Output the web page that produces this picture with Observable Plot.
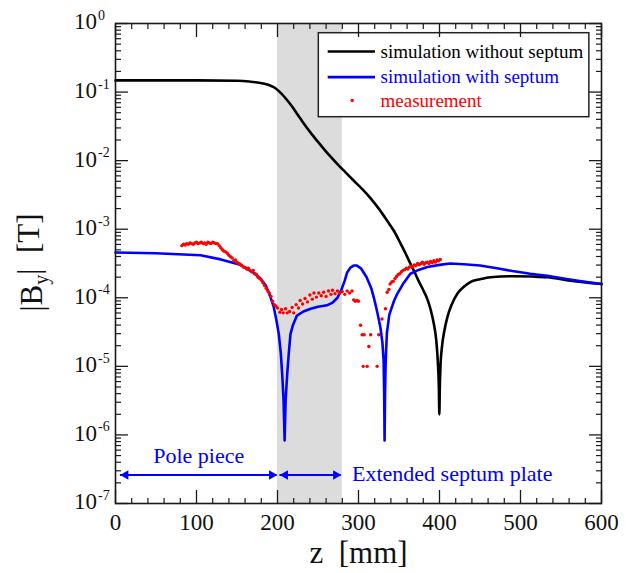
<!DOCTYPE html>
<html><head><meta charset="utf-8">
<script src="https://cdn.jsdelivr.net/npm/d3@7"></script>
<script src="https://cdn.jsdelivr.net/npm/@observablehq/plot@0.6"></script>
<style>
html,body{margin:0;padding:0;background:#fff;}
#chart svg{display:block;}
#chart svg text{font-family:"Liberation Serif","Times New Roman",Times,serif !important;}
</style>
</head><body><div id="chart"></div>
<script>
// ---------- data (z in mm, log10 of |By| in T) ----------
const noSeptumZ = [0,50,100,150,165,175,182,191,197,202,207,212,218,225,232,242,253,263,274,284,294,305,315,325,335,344,352,358,364,369,374,380,385,389,393,396,398,399.2,399.8,400.4,401.2,403,406,410,415,422,430,438,450,463,491,515,533,562,600];
const noSeptumLog = [-0.83,-0.83,-0.83,-0.835,-0.845,-0.86,-0.875,-0.905,-0.94,-0.99,-1.05,-1.12,-1.21,-1.33,-1.45,-1.61,-1.77,-1.91,-2.05,-2.17,-2.29,-2.42,-2.55,-2.70,-2.87,-3.03,-3.21,-3.35,-3.50,-3.62,-3.75,-3.89,-4.02,-4.17,-4.38,-4.62,-4.95,-5.3,-5.7,-5.3,-5.0,-4.72,-4.48,-4.27,-4.1,-3.94,-3.84,-3.77,-3.73,-3.70,-3.685,-3.69,-3.70,-3.75,-3.80];

const withSeptumZ = [0,50,105,130,154,170,179,186,191,195.5,199,201.6,204,205.8,207.5,208.8,210,212,214,216,219,224,232,241,250,261,268,274,279,283,286,290,294,298,303,310,316,319,323,327,329.5,331,331.7,332.2,332.8,333.5,335,338,344,348,356,364,375,385,400,413,430,450,471,490,512,533,553,575,600];
const withSeptumLog = [-3.34,-3.35,-3.38,-3.44,-3.52,-3.63,-3.72,-3.83,-3.98,-4.14,-4.35,-4.53,-4.8,-5.11,-5.5,-6.08,-5.5,-5.11,-4.8,-4.53,-4.40,-4.26,-4.20,-4.16,-4.13,-4.11,-4.07,-4.0,-3.88,-3.75,-3.63,-3.56,-3.53,-3.53,-3.57,-3.70,-3.87,-4.0,-4.2,-4.43,-4.65,-4.91,-5.4,-6.08,-5.4,-4.95,-4.52,-4.25,-4.04,-3.94,-3.78,-3.65,-3.59,-3.55,-3.52,-3.50,-3.51,-3.53,-3.57,-3.61,-3.65,-3.68,-3.72,-3.76,-3.80];

const measZ = [82,84,86,88,90,92,94,96,98,100,102,104,106,108,110,112,114,116,118,120,122,124,126,128,130,132,134,136,138,140,142,144,146,148,150,152,154,156,158,160,162,164,166,168,170,172,174,176,178,180,182,184,186,188,190,192,194,196,198,
  200,203,205,207,210,212,215,218,220,223,226,228,231,234,237,240,243,245,248,251,254,257,260,263,266,268,271,274,277,280,283,286,289,292,
  294,296,298,300,302.5,304.5,305.8,307,310.7,312.8,315,323,325,329,333.3,335.4,337.5,
  339,341,343,345,347,349,351,353,355,357,359,361,363,365,367,369,371,373,375,377,379,381,383,385,387,389,391,393,395,397,399,401];
const measLog = [-3.24,-3.22,-3.23,-3.21,-3.22,-3.20,-3.21,-3.22,-3.20,-3.19,-3.21,-3.20,-3.19,-3.21,-3.20,-3.22,-3.19,-3.20,-3.21,-3.19,-3.20,-3.21,-3.21,-3.24,-3.27,-3.30,-3.32,-3.33,-3.35,-3.38,-3.40,-3.42,-3.46,-3.45,-3.48,-3.50,-3.51,-3.53,-3.55,-3.56,-3.58,-3.57,-3.60,-3.62,-3.60,-3.65,-3.66,-3.70,-3.72,-3.74,-3.78,-3.82,-3.86,-3.90,-3.93,-3.98,-4.05,-4.10,-4.12,
  -4.15,-4.21,-4.17,-4.22,-4.16,-4.22,-4.20,-4.14,-4.22,-4.10,-4.15,-4.04,-4.09,-4.01,-4.06,-3.96,-4.02,-3.93,-3.99,-3.93,-3.97,-3.92,-3.98,-3.90,-3.95,-3.89,-3.94,-3.90,-3.93,-3.91,-3.95,-3.90,-3.93,-3.90,
  -4.03,-4.05,-4.04,-4.05,-4.40,-4.54,-5.0,-4.54,-5.0,-4.71,-4.54,-5.0,-4.54,-4.31,-4.16,-3.92,-3.88,
  -3.80,-3.77,-3.76,-3.72,-3.69,-3.66,-3.65,-3.62,-3.60,-3.59,-3.57,-3.58,-3.55,-3.54,-3.55,-3.52,-3.53,-3.50,-3.52,-3.50,-3.48,-3.51,-3.49,-3.48,-3.50,-3.47,-3.49,-3.46,-3.48,-3.45,-3.46,-3.44];

// shaded septum region and annotation spans (z in mm)
const shadeStart = [200];
const shadeEnd = [280];
const spanLabels = ["Pole piece", "Extended septum plate"];
const spanStart = [6, 203];
const spanEnd = [199.5, 278.6];

// legend
const legendLabels = ["simulation without septum", "simulation with septum", "measurement"];
const legendColors = ["#000000", "#0000ff", "#ff0000"];

// ticks
const xMajor = [0, 100, 200, 300, 400, 500, 600];
const xTickLabels = ["0", "100", "200", "300", "400", "500", "600"];
const yExponents = [-7, -6, -5, -4, -3, -2, -1, 0];
const yExpLabels = ["-7", "-6", "-5", "-4", "-3", "-2", "-1", "0"];

// ---------- build tables ----------
const noSeptum = noSeptumZ.map((z, i) => ({z, b: Math.pow(10, noSeptumLog[i])}));
const withSeptum = withSeptumZ.map((z, i) => ({z, b: Math.pow(10, withSeptumLog[i])}));
const meas = measZ.map((z, i) => ({z, b: Math.pow(10, measLog[i])}));
const shade = shadeStart.map((s, i) => ({z1: s, z2: shadeEnd[i], b1: 1e-7, b2: 1}));

const BLUE = "#0000ff", RED = "#ff0000";
const arrowB = 2.6e-7;
const spans = spanStart.map((s, i) => ({z1: s, z2: spanEnd[i], b: arrowB}));
const poleText = [{z: (spanStart[0] + spanEnd[0]) / 2, b: 5.0e-7, t: spanLabels[0]}];
const plateText = [{z: 292, b: 2.7e-7, t: spanLabels[1]}];

// legend layout (in data coordinates of the plot)
const legendBox = [{z1: 251, z2: 585, b1: 0.0430, b2: 0.722}];
const legendRowB = [0.391, 0.165, 0.0753];
const legendRows = legendLabels.map((t, i) => ({t, c: legendColors[i], b: legendRowB[i]}));

const xMinor = d3.range(0, 601, 20).filter(v => v % 100 !== 0);
const yMajor = yExponents.map(e => Math.pow(10, e));
const yMinor = yExponents.slice(0, -1).flatMap(e => d3.range(2, 10).map(k => k * Math.pow(10, e)));

const SERIF = "Liberation Serif";
const YTITLE = "|By|\u00a0\u00a0[T]";
const AX = "#1a1a1a";
const none = () => "";

const plot = Plot.plot({
  width: 641, height: 573,
  marginLeft: 115, marginRight: 40, marginTop: 23, marginBottom: 70,
  style: {fontFamily: SERIF, background: "white", overflow: "visible"},
  x: {domain: [0, 600]},
  y: {type: "log", domain: [1e-7, 1]},
  marks: [
    Plot.rect(shade, {x1: "z1", x2: "z2", y1: "b1", y2: "b2", fill: "#dcdcdc"}),
    // curves
    Plot.line(noSeptum, {x: "z", y: "b", stroke: "#000", strokeWidth: 2.6, curve: "monotone-x"}),
    Plot.line(withSeptum, {x: "z", y: "b", stroke: BLUE, strokeWidth: 2.6}),
    Plot.dot(meas, {x: "z", y: "b", r: 1.7, fill: RED, stroke: null}),
    // span arrows
    Plot.ruleY(spans, {x1: "z1", x2: "z2", y: "b", stroke: BLUE, strokeWidth: 2}),
    Plot.dot(spans, {x: "z1", y: "b", symbol: "triangle", r: 3.5, rotate: -90, dx: 5.3, fill: BLUE, stroke: null}),
    Plot.dot(spans, {x: "z2", y: "b", symbol: "triangle", r: 3.5, rotate: 90, dx: -5.3, fill: BLUE, stroke: null}),
    Plot.text(poleText, {x: "z", y: "b", text: "t", textAnchor: "middle", lineAnchor: "middle", fill: BLUE, fontSize: 22, fontFamily: SERIF}),
    Plot.text(plateText, {x: "z", y: "b", text: "t", textAnchor: "start", lineAnchor: "middle", fill: BLUE, fontSize: 22, fontFamily: SERIF}),
    // legend
    Plot.rect(legendBox, {x1: "z1", x2: "z2", y1: "b1", y2: "b2", fill: "white", stroke: "#222", strokeWidth: 1.5}),
    Plot.ruleY(legendRows.slice(0, 2), {y: "b", x1: 262.6, x2: 321, stroke: "c", strokeWidth: 2.6}),
    Plot.dot(legendRows.slice(2), {x: 292.2, y: "b", r: 1.7, fill: "c", stroke: null}),
    Plot.text(legendRows, {x: 327.2, y: "b", text: "t", fill: "c", textAnchor: "start", lineAnchor: "middle", fontSize: 19, fontFamily: SERIF}),
    // inward ticks on all four sides
    Plot.axisX({anchor: "bottom", ticks: xMajor, tickSize: -13, tickFormat: none, label: null, stroke: AX, strokeWidth: 1.3}),
    Plot.axisX({anchor: "bottom", ticks: xMinor, tickSize: -5, tickFormat: none, label: null, stroke: AX, strokeWidth: 1.2}),
    Plot.axisX({anchor: "top", ticks: xMajor, tickSize: -13, tickFormat: none, label: null, stroke: AX, strokeWidth: 1.3}),
    Plot.axisX({anchor: "top", ticks: xMinor, tickSize: -5, tickFormat: none, label: null, stroke: AX, strokeWidth: 1.2}),
    Plot.axisY({anchor: "left", ticks: yMajor, tickSize: -13, tickFormat: none, label: null, stroke: AX, strokeWidth: 1.3}),
    Plot.axisY({anchor: "left", ticks: yMinor, tickSize: -6, tickFormat: none, label: null, stroke: AX, strokeWidth: 1.2}),
    Plot.axisY({anchor: "right", ticks: yMajor, tickSize: -13, tickFormat: none, label: null, stroke: AX, strokeWidth: 1.3}),
    Plot.axisY({anchor: "right", ticks: yMinor, tickSize: -6, tickFormat: none, label: null, stroke: AX, strokeWidth: 1.2}),
    Plot.frame({stroke: AX, strokeWidth: 1.6}),
    // tick labels
    Plot.text(xMajor, {x: d => d, frameAnchor: "bottom", dy: 19, lineAnchor: "middle", textAnchor: "middle", text: (d, i) => xTickLabels[i], fontSize: 23, fontFamily: SERIF, fill: "#111"}),
    Plot.text(yExponents, {y: e => Math.pow(10, e), frameAnchor: "left", dx: -18.5, dy: -1.5, textAnchor: "end", lineAnchor: "middle", text: () => "10", fontSize: 23, fontFamily: SERIF, fill: "#111"}),
    Plot.text(yExponents, {y: e => Math.pow(10, e), frameAnchor: "left", dx: -17.5, dy: -8, textAnchor: "start", lineAnchor: "middle", text: (d, i) => yExpLabels[i], fontSize: 14, fontFamily: SERIF, fill: "#111"}),
    // axis titles
    Plot.text(["z\u00a0\u00a0[mm]"], {frameAnchor: "bottom", dy: 50, textAnchor: "middle", lineAnchor: "middle", text: d => d, fontSize: 31, fontFamily: SERIF, fill: "#111"}),
    Plot.text([YTITLE], {frameAnchor: "left", dx: -83, dy: -1, rotate: -90, textAnchor: "middle", lineAnchor: "middle", text: d => d, fontSize: 31, fontFamily: SERIF, fill: "#111"})
  ]
});

// subscript in the y title
d3.select(plot).selectAll("text").filter(function () { return this.textContent === YTITLE; })
  .each(function () {
    const t = d3.select(this);
    t.text(null);
    t.append("tspan").text("|B");
    t.append("tspan").attr("font-size", 20).attr("dy", "0.3em").text("y");
    t.append("tspan").attr("dy", "-0.3em").text("|\u00a0\u00a0[T]");
  });

document.getElementById("chart").appendChild(plot);
</script>
</body></html>
